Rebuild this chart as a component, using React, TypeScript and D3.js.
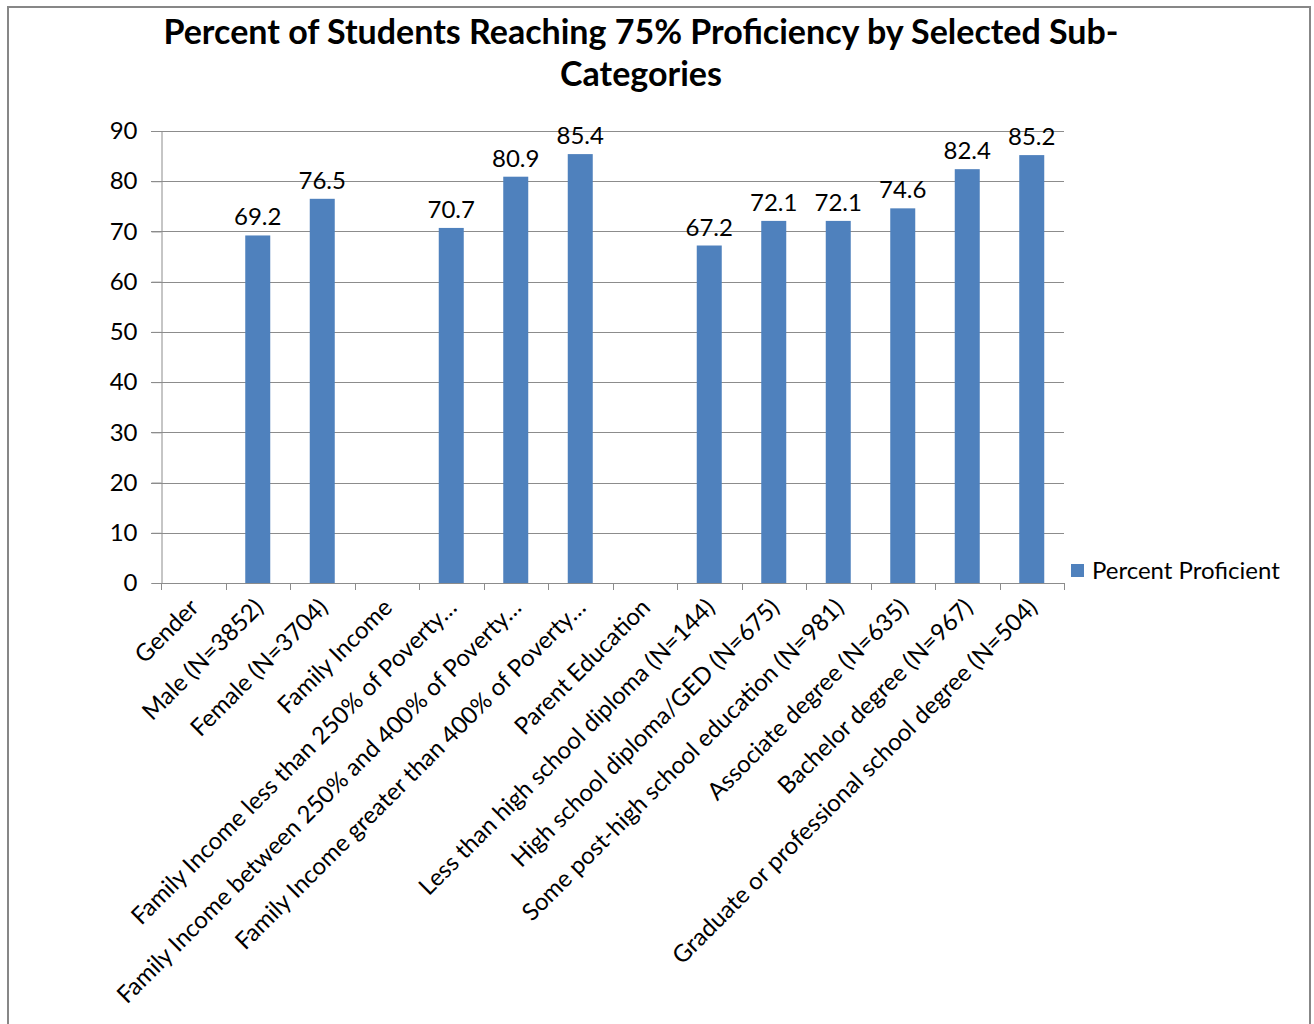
import { useEffect, useRef } from 'react';
import * as d3 from 'd3';

const categories = [
  'Gender',
  'Male (N=3852)',
  'Female (N=3704)',
  'Family Income',
  'Family Income less than 250% of Poverty…',
  'Family Income between 250% and 400% of Poverty…',
  'Family Income greater than 400% of Poverty…',
  'Parent Education',
  'Less than high school diploma (N=144)',
  'High school diploma/GED (N=675)',
  'Some post-high school education (N=981)',
  'Associate degree (N=635)',
  'Bachelor degree (N=967)',
  'Graduate or professional school degree (N=504)',
];
const percentProficient: (number | null)[] = [
  null, 69.2, 76.5, null, 70.7, 80.9, 85.4, null, 67.2, 72.1, 72.1, 74.6, 82.4, 85.2,
];
const yTicks = [0, 10, 20, 30, 40, 50, 60, 70, 80, 90];
const titleLines = ['Percent of Students Reaching 75% Proficiency by Selected Sub-', 'Categories'];
const seriesName = 'Percent Proficient';

export default function App() {
  const svgRef = useRef<SVGSVGElement>(null);

  useEffect(() => {
    if (!svgRef.current) return;
    document.body.style.margin = '0';
    const svg = d3.select(svgRef.current);
    svg.selectAll('*').remove();

    const W = 1314, H = 1024;
    const font = 'Lato, "Open Sans", sans-serif';
    const left = 161, right = 1064, top = 131, bottom = 583;
    const barColor = '#4F81BD';
    const gridColor = '#8c8c8c';
    const fs = '24px';

    svg.attr('width', W).attr('height', H).style('font-family', font);

    svg.append('rect').attr('width', W).attr('height', H).attr('fill', '#fff');
    svg.append('path')
      .attr('d', `M8,${H} V7 H1310 V${H}`)
      .attr('fill', 'none')
      .attr('stroke', '#878787')
      .attr('stroke-width', 2);

    titleLines.forEach((t, i) => {
      svg.append('text')
        .attr('x', 641)
        .attr('y', 44 + i * 42)
        .attr('text-anchor', 'middle')
        .style('font-size', '34px')
        .style('font-weight', 'bold')
        .style('fill', '#000')
        .text(t);
    });

    const xb = d3.scaleBand<string>().domain(categories).range([left, right]);
    const y = d3.scaleLinear().domain([0, 90]).range([bottom, top]);
    const cx = (c: string) => (xb(c) as number) + xb.bandwidth() / 2;

    // gridlines
    svg.append('g')
      .selectAll('line')
      .data(yTicks.filter(d => d > 0))
      .enter().append('line')
      .attr('x1', left - 10)
      .attr('x2', right)
      .attr('y1', d => Math.round(y(d)) + 0.5)
      .attr('y2', d => Math.round(y(d)) + 0.5)
      .attr('stroke', gridColor)
      .attr('stroke-width', 1);

    // y axis
    const yAxis = svg.append('g')
      .attr('transform', `translate(${left + 0.5},0)`)
      .call(d3.axisLeft(y).tickValues(yTicks).tickSize(10).tickPadding(14) as any);
    yAxis.select('.domain').attr('stroke', gridColor);
    yAxis.selectAll('line').attr('stroke', gridColor);
    yAxis.selectAll('text').style('font-size', fs).style('font-family', font).attr('fill', '#000');

    // bars
    const data = categories.map((c, i) => ({ c, v: percentProficient[i] })).filter(d => d.v !== null) as { c: string; v: number }[];
    svg.append('g')
      .selectAll('rect')
      .data(data)
      .enter().append('rect')
      .attr('x', d => cx(d.c) - 12.5)
      .attr('width', 25)
      .attr('y', d => y(d.v))
      .attr('height', d => bottom - y(d.v))
      .attr('fill', barColor);

    svg.append('g')
      .selectAll('text')
      .data(data)
      .enter().append('text')
      .attr('x', d => cx(d.c))
      .attr('y', d => y(d.v) - 10)
      .attr('text-anchor', 'middle')
      .style('font-size', fs)
      .style('fill', '#000')
      .text(d => d.v.toFixed(1));

    // x axis with ticks at category boundaries
    const xAxis = svg.append('g');
    xAxis.append('line')
      .attr('x1', left).attr('x2', right)
      .attr('y1', bottom + 0.5).attr('y2', bottom + 0.5)
      .attr('stroke', gridColor);
    const bounds = categories.map(c => xb(c) as number).concat([right]);
    xAxis.selectAll('line.tick')
      .data(bounds)
      .enter().append('line')
      .attr('class', 'tick')
      .attr('x1', d => Math.round(d) + 0.5).attr('x2', d => Math.round(d) + 0.5)
      .attr('y1', bottom).attr('y2', bottom + 7)
      .attr('stroke', gridColor);

    xAxis.selectAll('text')
      .data(categories)
      .enter().append('text')
      .attr('transform', c => `translate(${cx(c) + 7},${bottom + 26}) rotate(-45)`)
      .attr('text-anchor', 'end')
      .style('font-size', fs)
      .style('fill', '#000')
      .text(c => c);

    // legend
    svg.append('rect')
      .attr('x', 1071).attr('y', 564)
      .attr('width', 13).attr('height', 13)
      .attr('fill', barColor);
    svg.append('text')
      .attr('x', 1092).attr('y', 579)
      .style('font-size', fs)
      .style('fill', '#000')
      .text(seriesName);
  }, []);

  return <svg ref={svgRef} style={{ display: 'block' }}></svg>;
}
